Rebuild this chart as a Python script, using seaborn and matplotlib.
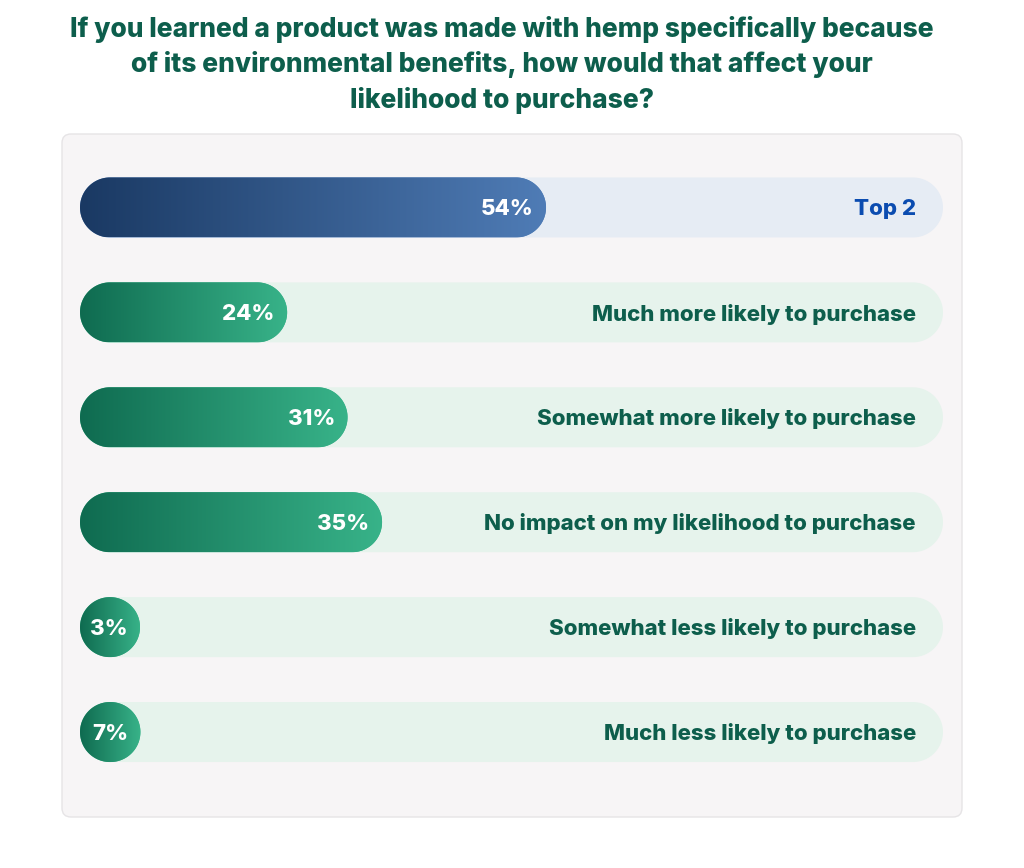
import numpy as np
import pandas as pd
import matplotlib
matplotlib.use("Agg")
import matplotlib.pyplot as plt
from matplotlib.patches import FancyBboxPatch, Polygon
from matplotlib.colors import LinearSegmentedColormap
import seaborn as sns

plt.rcParams['font.family'] = ['Inter', 'DejaVu Sans']

# ---------------- data ----------------
labels = ["Top 2",
          "Much more likely to purchase",
          "Somewhat more likely to purchase",
          "No impact on my likelihood to purchase",
          "Somewhat less likely to purchase",
          "Much less likely to purchase"]
values = [54, 24, 31, 35, 3, 7]
groups = ["top", "green", "green", "green", "green", "green"]

title = ("If you learned a product was made with hemp specifically because\n"
         "of its environmental benefits, how would that affect your\n"
         "likelihood to purchase?")

# ---------------- colours ----------------
grad = {"top": ("#1a3963", "#4f7cb6"), "green": ("#0f6b50", "#38b389")}
track_col = {"top": "#e6ecf4", "green": "#e6f3ec"}
label_col = {"top": "#0b4cb0", "green": "#0d5e4c"}
title_col = "#0d5e4c"
weight = 800

W, H = 1024, 868
fig = plt.figure(figsize=(W / 100, H / 100), dpi=100)

# background panel
bg = fig.add_axes([0, 0, 1, 1])
bg.set_xlim(0, W)
bg.set_ylim(H, 0)
bg.axis('off')
bg.add_patch(FancyBboxPatch((62, 134), 900, 683,
                            boxstyle="round,pad=0,rounding_size=9",
                            facecolor="#f7f5f6", edgecolor="#e6e4e6", lw=1))

fig.text(502, H - 65, title, ha='center', va='center', fontsize=19,
         fontweight=weight, color=title_col, linespacing=1.4,
         transform=None)

# bar axes
ax_l, ax_r, ax_t, ax_b = 80, 943, 155, 784.5
ax = fig.add_axes([ax_l / W, 1 - ax_b / H, (ax_r - ax_l) / W, (ax_b - ax_t) / H])
df = pd.DataFrame({"label": labels, "value": values})
bar_h = 0.572
sns.barplot(data=df, x="value", y="label", orient="h", width=bar_h,
            color="#cccccc", ax=ax)
ax.set_xlim(0, 100)
ax.set_ylim(len(labels) - 0.5, -0.5)
ax.axis('off')

px_x = (ax_r - ax_l) / 100.0
px_y = (ax_b - ax_t) / len(labels)
rad = (bar_h * px_y / 2) / px_x        # end-cap radius in x data units
min_w = 2 * rad


def pill(x0, w, yc, h, **kw):
    # stadium shape: round caps that are circles on screen
    ry = h / 2
    t = np.linspace(-np.pi / 2, np.pi / 2, 60)
    right = np.column_stack([x0 + w - rad + rad * np.cos(t), yc + ry * np.sin(t)])
    t2 = np.linspace(np.pi / 2, 3 * np.pi / 2, 60)
    left = np.column_stack([x0 + rad + rad * np.cos(t2), yc + ry * np.sin(t2)])
    return Polygon(np.vstack([right, left]), closed=True, **kw)


gradient = np.linspace(0, 1, 256).reshape(1, -1)
for p, val, lab, g in zip(ax.patches, values, labels, groups):
    p.set_visible(False)
    y0, h = p.get_y(), p.get_height()
    yc = y0 + h / 2
    # track
    ax.add_patch(pill(0, 100, yc, h, facecolor=track_col[g], edgecolor='none', zorder=1))
    # bar with gradient
    w = max(p.get_width(), min_w)
    bar = pill(0, w, yc, h, facecolor=grad[g][1], edgecolor='none', zorder=2)
    ax.add_patch(bar)
    cmap = LinearSegmentedColormap.from_list("g", grad[g])
    im = ax.imshow(gradient, extent=(0, w, y0 + h, y0), aspect='auto',
                   cmap=cmap, zorder=3, interpolation='bilinear')
    im.set_clip_path(bar)
    # texts
    ax.annotate(f"{val}%", xy=(w, yc), xytext=(-9, -1.2), textcoords='offset points',
                ha='right', va='center', color='white', fontsize=16,
                fontweight=weight, zorder=4)
    ax.annotate(lab, xy=(100, yc), xytext=(-19.5, -1.2), textcoords='offset points',
                ha='right', va='center', color=label_col[g], fontsize=16,
                fontweight=weight, zorder=4)

ax.set_xlim(0, 100)
ax.set_ylim(len(labels) - 0.5, -0.5)

fig.savefig("out.png", dpi=100, facecolor="white")
